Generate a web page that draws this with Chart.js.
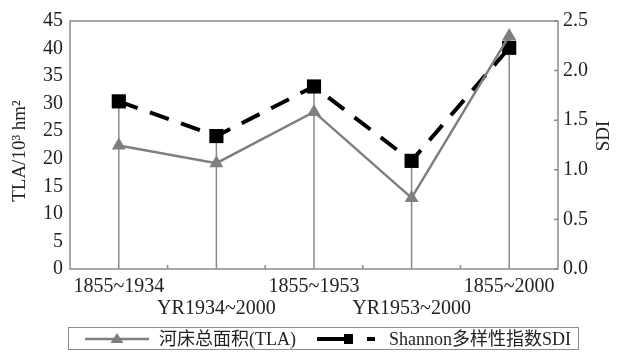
<!DOCTYPE html>
<html>
<head>
<meta charset="utf-8">
<script src="https://cdn.jsdelivr.net/npm/chart.js@4/dist/chart.umd.min.js"></script>
<style>
  html, body { margin: 0; padding: 0; background: #fff; }
  #wrap { position: relative; width: 625px; height: 352px; }
  #chart { position: absolute; left: 0; top: 0; }
  #legend {
    position: absolute; left: 68px; top: 327px; width: 511px; height: 23px;
    border: 1px solid #8c8c8c; box-sizing: border-box;
    font-family: "Liberation Serif", "Noto Sans CJK SC", serif; font-size: 18px; color: #222;
  }
  #legend .sym { position: absolute; top: 0; }
  #legend .txt { position: absolute; top: 0px; line-height: 22px; white-space: nowrap; }
</style>
</head>
<body>
<div id="wrap">
  <canvas id="chart" width="625" height="352"></canvas>
  <div id="legend">
    <svg class="sym" style="left:16px" width="66" height="22">
      <line x1="0" y1="11" x2="64" y2="11" stroke="#7f7f7f" stroke-width="2.5"/>
      <polygon points="32,5 38.5,15 25.5,15" fill="#7f7f7f"/>
    </svg>
    <span class="txt" style="left:90px">河床总面积(TLA)</span>
    <svg class="sym" style="left:248px" width="64" height="22">
      <line x1="0" y1="11" x2="30" y2="11" stroke="#000" stroke-width="4"/>
      <rect x="27" y="6" width="9" height="10" fill="#000"/>
      <line x1="50" y1="11" x2="58" y2="11" stroke="#000" stroke-width="4"/>
    </svg>
    <span class="txt" style="left:320px">Shannon多样性指数SDI</span>
  </div>
</div>
<script>
// Periods on the x axis (two staggered rows of labels)
const periods = [
  ['1855~1934', ''],
  ['', 'YR1934~2000'],
  ['1855~1953', ''],
  ['', 'YR1953~2000'],
  ['1855~2000', '']
];
// Total river-bed area, 10^3 hm^2 (left axis)
const tla = [22.4, 19.2, 28.5, 12.9, 42.3];
// Shannon diversity index (right axis)
const sdi = [1.69, 1.34, 1.84, 1.09, 2.23];
// Axis ticks
const tlaTicks = { min: 0, max: 45, step: 5 };
const sdiTicks = { min: 0, max: 2.5, step: 0.5 };

const frameColor = '#8a8a8a';
const serif = '"Liberation Serif", "Times New Roman", serif';

// Frame, drop lines, inward tick marks and axis titles
const decorations = {
  id: 'decorations',
  beforeDatasetsDraw(chart) {
    const { ctx, chartArea: a } = chart;
    const m0 = chart.getDatasetMeta(0), m1 = chart.getDatasetMeta(1);
    ctx.save();
    ctx.strokeStyle = frameColor;
    ctx.lineWidth = 1.5;
    ctx.beginPath();
    m0.data.forEach((p, i) => {
      const top = Math.min(p.y, m1.data[i].y);
      ctx.moveTo(p.x, top);
      ctx.lineTo(p.x, a.bottom);
    });
    ctx.stroke();
    // plot frame
    ctx.strokeRect(a.left, a.top, a.right - a.left, a.bottom - a.top);
    // inward ticks on the category axis, between categories
    const xs = chart.scales.x;
    ctx.beginPath();
    for (let i = 1; i < periods.length; i++) {
      const x = (xs.getPixelForValue(i - 1) + xs.getPixelForValue(i)) / 2;
      ctx.moveTo(x, a.bottom);
      ctx.lineTo(x, a.bottom - 4);
    }
    // inward ticks on the right axis
    const ys = chart.scales.y1;
    ys.ticks.forEach(t => {
      const y = ys.getPixelForValue(t.value);
      ctx.moveTo(a.right, y);
      ctx.lineTo(a.right - 4, y);
    });
    ctx.stroke();
    ctx.restore();
  },
  afterDraw(chart) {
    const { ctx } = chart;
    ctx.save();
    ctx.fillStyle = '#222';
    ctx.font = '19px ' + serif;
    ctx.textAlign = 'center';
    ctx.textBaseline = 'middle';
    ctx.translate(20, 151);
    ctx.rotate(-Math.PI / 2);
    ctx.fillText('TLA/10³ hm²', 0, 0);
    ctx.restore();
    ctx.save();
    ctx.fillStyle = '#222';
    ctx.font = '19px ' + serif;
    ctx.textAlign = 'center';
    ctx.textBaseline = 'middle';
    ctx.translate(604, 136);
    ctx.rotate(-Math.PI / 2);
    ctx.fillText('SDI', 0, 0);
    ctx.restore();
  }
};

new Chart(document.getElementById('chart'), {
  type: 'line',
  data: {
    labels: periods,
    datasets: [
      {
        label: '河床总面积(TLA)',
        data: tla,
        yAxisID: 'y',
        borderColor: '#7f7f7f',
        backgroundColor: '#7f7f7f',
        borderWidth: 2.5,
        pointStyle: 'triangle',
        pointRadius: 8,
        pointBorderWidth: 0,
        tension: 0
      },
      {
        label: 'Shannon多样性指数SDI',
        data: sdi,
        yAxisID: 'y1',
        borderColor: '#000',
        backgroundColor: '#000',
        borderWidth: 4,
        borderDash: [20, 13],
        pointStyle: 'rect',
        pointRadius: 10,
        pointBorderWidth: 0,
        tension: 0
      }
    ]
  },
  options: {
    responsive: false,
    animation: false,
    layout: { padding: { top: 21, bottom: 33, left: 0, right: 0 } },
    plugins: { legend: { display: false }, tooltip: { enabled: false } },
    scales: {
      x: {
        offset: true,
        grid: { display: false, drawTicks: false },
        border: { display: false },
        ticks: {
          autoSkip: false, maxRotation: 0, padding: 7,
          color: '#222', font: { family: serif, size: 20, lineHeight: 1.1 }
        },
        afterFit(s) { s.height = 50; }
      },
      y: {
        position: 'left',
        min: tlaTicks.min, max: tlaTicks.max,
        grid: { display: false, drawTicks: false },
        border: { display: false },
        ticks: {
          stepSize: tlaTicks.step, padding: 7,
          color: '#222', font: { family: serif, size: 20 }
        },
        afterFit(s) { s.width = 70; }
      },
      y1: {
        position: 'right',
        min: sdiTicks.min, max: sdiTicks.max,
        grid: { display: false, drawTicks: false },
        border: { display: false },
        ticks: {
          stepSize: sdiTicks.step, padding: 5,
          color: '#222', font: { family: serif, size: 20 },
          callback: v => Number(v).toFixed(1)
        },
        afterFit(s) { s.width = 67; }
      }
    }
  },
  plugins: [decorations]
});
</script>
</body>
</html>
